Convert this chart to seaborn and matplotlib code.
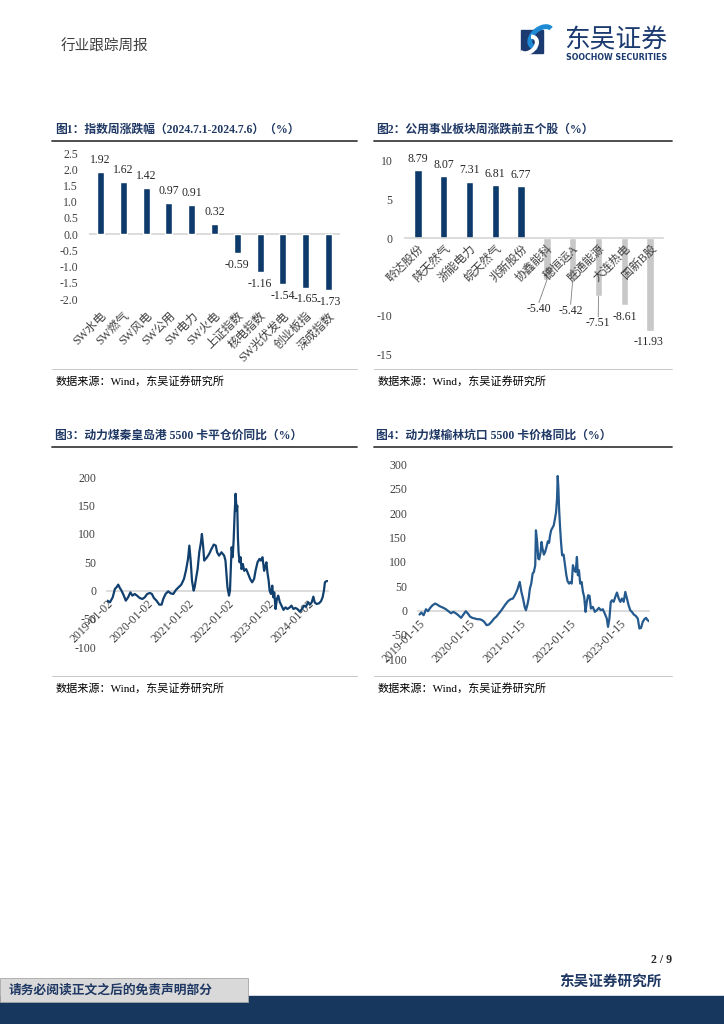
import matplotlib
matplotlib.use("Agg")
import matplotlib.pyplot as plt
from matplotlib.patches import Rectangle, Arc
import pandas as pd
import seaborn as sns

# ---- 图1 指数周涨跌幅 ----
idx_names = ["SW水电", "SW燃气", "SW风电", "SW公用", "SW电力", "SW火电",
             "上证指数", "核电指数", "SW光伏发电", "创业板指", "深成指数"]
idx_chg = [1.92, 1.62, 1.42, 0.97, 0.91, 0.32, -0.59, -1.16, -1.54, -1.65, -1.73]
idx_yticks = [2.5, 2.0, 1.5, 1.0, 0.5, 0.0, -0.5, -1.0, -1.5, -2.0]

# ---- 图2 公用事业板块周涨跌前五个股 ----
stock_names = ["聆达股份", "陕天然气", "浙能电力", "皖天然气", "兆新股份",
               "协鑫能科", "穗恒运A", "胜通能源", "大连热电", "国新B股"]
stock_chg = [8.79, 8.07, 7.31, 6.81, 6.77, -5.40, -5.42, -7.51, -8.61, -11.93]
stock_yticks = [10, 5, 0, -10, -15]

# ---- 图3 动力煤秦皇岛港5500卡平仓价同比 ----
qhd_dates = ["2019-01-02", "2019-01-26", "2019-02-20", "2019-03-12", "2019-03-27", "2019-04-11",
             "2019-04-26", "2019-05-11", "2019-06-01", "2019-06-19", "2019-07-10", "2019-07-31",
             "2019-08-18", "2019-09-08", "2019-09-29", "2019-10-23", "2019-11-17", "2019-12-08",
             "2019-12-30", "2020-01-24", "2020-02-11", "2020-02-29", "2020-03-24", "2020-04-18",
             "2020-05-09", "2020-05-24", "2020-06-14", "2020-07-08", "2020-07-29", "2020-08-23",
             "2020-09-16", "2020-10-10", "2020-11-04", "2020-11-28", "2020-12-16", "2021-01-04",
             "2021-01-16", "2021-01-28", "2021-02-09", "2021-02-24", "2021-03-05", "2021-03-17",
             "2021-04-01", "2021-04-16", "2021-05-01", "2021-05-10", "2021-05-22", "2021-05-31",
             "2021-06-21", "2021-07-15", "2021-08-05", "2021-08-26", "2021-09-13", "2021-09-25",
             "2021-10-13", "2021-11-04", "2021-11-28", "2021-12-10", "2021-12-19", "2021-12-28",
             "2022-01-11", "2022-01-20", "2022-01-29", "2022-02-04", "2022-02-13", "2022-02-22",
             "2022-03-03", "2022-03-12", "2022-03-21", "2022-03-27", "2022-04-02", "2022-04-08",
             "2022-04-17", "2022-04-26", "2022-05-05", "2022-05-17", "2022-05-29", "2022-06-16",
             "2022-07-04", "2022-07-22", "2022-08-09", "2022-08-27", "2022-09-09", "2022-09-27",
             "2022-10-15", "2022-10-27", "2022-11-11", "2022-11-26", "2022-12-08", "2022-12-17",
             "2022-12-26", "2023-01-06", "2023-01-15", "2023-01-27", "2023-02-08", "2023-02-17",
             "2023-02-26", "2023-03-10", "2023-03-22", "2023-04-03", "2023-04-18", "2023-05-03",
             "2023-05-21", "2023-06-08", "2023-06-26", "2023-07-17", "2023-08-01", "2023-08-19",
             "2023-09-06", "2023-09-24", "2023-10-15", "2023-11-05", "2023-11-23", "2023-12-11",
             "2023-12-29", "2024-01-17", "2024-02-01", "2024-02-16", "2024-02-28", "2024-03-17",
             "2024-04-07", "2024-04-25", "2024-05-10", "2024-05-22", "2024-05-31", "2024-06-12",
             "2024-06-21"]
qhd_yoy = [-17.7, -20.6, -11.8, 3.0, 6.0, 10.6,
           4.7, 0.0, -8.8, -17.7, -11.8, -3.0,
           -8.8, -5.9, -8.8, -13.0, -14.7, -11.8,
           -5.9, -4.1, -5.9, -13.0, -17.7, -24.7,
           -24.7, -14.7, -5.9, -1.2, -4.7, -5.9,
           1.2, 5.9, 10.6, 20.6, 35.3, 56.0,
           79.5, 53.0, 17.7, 0.0, 5.9, 20.6,
           38.0, 67.7, 85.0, 100.0, 76.6, 53.0,
           57.7, 64.8, 73.6, 81.3, 79.5, 67.7,
           61.8, 67.7, 61.8, 53.0, 29.5, 5.9,
           -8.8, 0.0, 47.0, 76.6, 59.0, 88.0,
           135.0, 171.0, 141.0, 150.0, 94.0, 67.7,
           50.0, 59.0, 38.0, 47.0, 35.0, 38.0,
           29.5, 20.6, 14.7, 20.6, 35.0, 50.0,
           56.0, 53.0, 59.0, 35.0, 44.0, 50.0,
           32.0, 17.7, 0.0, -5.9, 8.8, -11.8,
           -3.0, -32.4, -14.7, -8.8, -20.6, -26.5,
           -34.0, -29.5, -32.4, -29.5, -26.5, -32.4,
           -30.6, -32.4, -37.0, -32.4, -26.5, -28.3,
           -20.6, -24.7, -20.6, -10.6, -20.6, -23.6,
           -22.4, -18.8, -11.8, 0.0, 14.7, 16.5,
           17.0]
qhd_yticks = [200, 150, 100, 50, 0, -50, -100]
qhd_xticks = ["2019-01-02", "2020-01-02", "2021-01-02", "2022-01-02", "2023-01-02", "2024-01-02"]

# ---- 图4 动力煤榆林坑口5500卡价格同比 ----
yl_dates = ["2019-01-15", "2019-01-28", "2019-02-14", "2019-03-03", "2019-03-17", "2019-04-03",
            "2019-04-20", "2019-05-09", "2019-05-24", "2019-06-07", "2019-06-22", "2019-07-09",
            "2019-07-26", "2019-08-14", "2019-09-02", "2019-09-19", "2019-10-06", "2019-10-25",
            "2019-11-14", "2019-12-01", "2019-12-18", "2020-01-01", "2020-01-18", "2020-02-04",
            "2020-02-23", "2020-03-13", "2020-03-30", "2020-04-16", "2020-05-01", "2020-05-18",
            "2020-06-04", "2020-06-23", "2020-07-12", "2020-07-29", "2020-08-15", "2020-08-29",
            "2020-09-15", "2020-10-02", "2020-10-21", "2020-11-09", "2020-11-26", "2020-12-13",
            "2020-12-27", "2021-01-15", "2021-01-27", "2021-02-08", "2021-02-20", "2021-03-01",
            "2021-03-11", "2021-03-21", "2021-03-30", "2021-04-09", "2021-04-19", "2021-04-28",
            "2021-05-08", "2021-05-13", "2021-05-22", "2021-05-30", "2021-06-06", "2021-06-16",
            "2021-06-23", "2021-06-30", "2021-07-10", "2021-07-19", "2021-07-29", "2021-08-08",
            "2021-08-17", "2021-08-24", "2021-09-01", "2021-09-10", "2021-09-20", "2021-09-29",
            "2021-10-07", "2021-10-14", "2021-10-19", "2021-10-24", "2021-10-29", "2021-11-05",
            "2021-11-12", "2021-11-20", "2021-12-01", "2021-12-11", "2021-12-21", "2021-12-30",
            "2022-01-10", "2022-01-19", "2022-01-29", "2022-02-07", "2022-02-17", "2022-02-27",
            "2022-03-08", "2022-03-15", "2022-03-23", "2022-04-01", "2022-04-11", "2022-04-21",
            "2022-04-30", "2022-05-10", "2022-05-19", "2022-05-29", "2022-06-08", "2022-06-18",
            "2022-07-02", "2022-07-17", "2022-07-31", "2022-08-15", "2022-08-29", "2022-09-13",
            "2022-09-27", "2022-10-12", "2022-10-21", "2022-10-31", "2022-11-10", "2022-11-19",
            "2022-12-01", "2022-12-13", "2022-12-25", "2023-01-07", "2023-01-19", "2023-01-31",
            "2023-02-12", "2023-02-24", "2023-03-08", "2023-03-20", "2023-04-01", "2023-04-13",
            "2023-04-27", "2023-05-11", "2023-05-26", "2023-06-07", "2023-06-19", "2023-07-01",
            "2023-07-13", "2023-07-25", "2023-08-06", "2023-08-16"]
yl_yoy = [-8.2, -4.1, -9.6, 2.7, -1.4, 5.5,
          10.9, 14.3, 12.3, 9.6, 7.5, 5.5,
          2.7, -1.4, -5.5, -2.7, -5.5, -9.6,
          -15.0, -8.2, -1.4, -5.5, -12.3, -15.0,
          -16.4, -17.8, -17.8, -19.8, -23.2, -30.0,
          -28.7, -23.2, -16.4, -12.3, -6.1, -1.4,
          5.5, 12.3, 19.1, 23.2, 24.6, 32.8,
          41.7, 58.7, 38.2, 24.6, 7.5, 0.7,
          10.9, 24.6, 45.0, 55.3, 75.8, 79.2,
          92.9, 164.6, 140.7, 106.5, 105.0, 120.0,
          140.7, 127.0, 114.7, 120.0, 130.5, 142.0,
          139.0, 154.0, 164.6, 169.4, 174.8, 188.5,
          202.0, 229.5, 276.0, 250.0, 209.0, 171.4,
          140.7, 113.4, 114.7, 93.0, 72.4, 60.0,
          55.3, 58.7, 55.3, 93.0, 82.6, 79.2,
          110.0, 72.4, 82.6, 55.3, 58.7, 38.2,
          28.0, -2.7, 17.8, 31.4, 30.0, 4.1,
          7.5, -2.7, 0.7, 5.5, 0.7, 2.7,
          -6.1, -16.4, -33.5, -16.4, 17.8, 21.2,
          17.8, 28.0, 36.9, 24.6, 17.8, 24.6,
          17.8, 38.2, 24.6, 10.9, 0.7, -2.7,
          -8.2, -10.9, -16.4, -36.9, -35.5, -23.2,
          -17.8, -15.0, -19.8, -21.9]
yl_yticks = [300, 250, 200, 150, 100, 50, 0, -50, -100]
yl_xticks = ["2019-01-15", "2020-01-15", "2021-01-15", "2022-01-15", "2023-01-15"]

# ---- style ----
NAVY = "#0d3a6b"
GREY_BAR = "#c8c8c8"
ZERO = "#d6d6d6"
TICK_C = "#404040"
TITLE_C = "#1f3864"

sns.set_style("white")
plt.rcParams["font.family"] = ["Liberation Serif", "Noto Sans CJK SC"]
plt.rcParams["axes.unicode_minus"] = False

W, H = 724, 1024
fig = plt.figure(figsize=(W / 100, H / 100), dpi=100)


def px_axes(x0, y0, x1, y1):
    ax = fig.add_axes([x0 / W, 1 - y1 / H, (x1 - x0) / W, (y1 - y0) / H])
    ax.set_facecolor("none")
    ax.set_axisbelow(False)
    for s in ax.spines.values():
        s.set_visible(False)
    return ax


# page background layer, pixel coordinates
bg = fig.add_axes([0, 0, 1, 1], zorder=-5)
bg.set_xlim(0, W)
bg.set_ylim(H, 0)
bg.axis("off")

# header
bg.text(61, 47, "行业跟踪周报", fontsize=10.5, color="#404040", va="center")
bg.add_patch(Rectangle((521, 30), 22, 23, color="#1b3a6f"))
bg.add_patch(Arc((541, 37), 26, 16, angle=-40, theta1=150, theta2=360, color="#1e8ad6", lw=3.5))
bg.add_patch(Arc((528, 45), 20, 14, angle=-40, theta1=-30, theta2=180, color="white", lw=3))
bg.text(564, 40, "东吴证券", fontsize=18.5, color="#1b3a6f", va="center", family="Noto Sans CJK SC")
bg.text(566, 57, "SOOCHOW SECURITIES", fontsize=5.7, color="#1b3a6f", va="center",
        family="DejaVu Sans", weight="bold")

# chart titles, rules, sources
titles = [(55, 130, "图1：指数周涨跌幅（2024.7.1-2024.7.6）（%）", 52, 357),
          (376, 130, "图2：公用事业板块周涨跌前五个股（%）", 374, 672),
          (55, 436, "图3：动力煤秦皇岛港 5500 卡平仓价同比（%）", 52, 357),
          (376, 436, "图4：动力煤榆林坑口 5500 卡价格同比（%）", 374, 672)]
for tx, ty, txt, lx0, lx1 in titles:
    bg.text(tx, ty, txt, fontsize=8.5, weight="bold", color=TITLE_C, va="center")
    bg.plot([lx0, lx1], [ty + 11, ty + 11], color="#404040", lw=1.3)
    src_y = 381 if ty < 300 else 688
    bg.plot([lx0, lx1], [src_y - 12, src_y - 12], color="#bfbfbf", lw=0.6)
    bg.text(lx0 + 4, src_y, "数据来源：Wind，东吴证券研究所", fontsize=8, color="#000000", va="center")

# footer
bg.text(672, 960, "2 / 9", fontsize=8.5, weight="bold", ha="right", va="center")
bg.text(662, 983, "东吴证券研究所", fontsize=10.5, weight="bold", color="#1f3864", ha="right", va="center")
bg.add_patch(Rectangle((0, 996), W, 28, color="#17375e"))
bg.add_patch(Rectangle((0, 978), 248, 24, facecolor="#d9d9d9", edgecolor="#a6a6a6", lw=0.6))
bg.text(9, 990, "请务必阅读正文之后的免责声明部分", fontsize=9.2, weight="bold", color="#1f3864", va="center")

# ---- 图1 ----
ax1 = px_axes(89, 153, 340, 299)
sns.barplot(x=idx_names, y=idx_chg, color=NAVY, saturation=1, width=0.31, ax=ax1)
ax1.set_xlim(-0.5, len(idx_names) - 0.5)
ax1.set_ylim(-2.0, 2.5)
ax1.axhline(0, color=ZERO, lw=1.2, zorder=0)
ax1.set_yticks(idx_yticks)
ax1.set_yticklabels([f"{t:.1f}" for t in idx_yticks])
ax1.tick_params(axis="y", length=0, pad=8, labelsize=8.5, labelcolor=TICK_C)
ax1.tick_params(axis="x", length=0, pad=8, labelsize=8.5, labelcolor=TICK_C)
plt.setp(ax1.get_xticklabels(), rotation=45, ha="right", rotation_mode="anchor")
for i, v in enumerate(idx_chg):
    ax1.annotate(f"{v:.2f}", (i, v), xytext=(0, 8.5 if v > 0 else -8.5), textcoords="offset points",
                 ha="center", va="center", fontsize=8.5)
ax1.set_xlabel("")
ax1.set_ylabel("")

# ---- 图2 ----
ax2 = px_axes(405, 160.7, 663, 354.5)
bar_cols = [NAVY if v > 0 else GREY_BAR for v in stock_chg]
sns.barplot(x=stock_names, y=stock_chg, hue=stock_names, palette=bar_cols, legend=False,
            saturation=1, width=0.28, ax=ax2)
ax2.set_xlim(-0.5, len(stock_names) - 0.5)
ax2.set_ylim(-15, 10)
ax2.spines["bottom"].set_visible(True)
ax2.spines["bottom"].set_position(("data", 0))
ax2.spines["bottom"].set_color(ZERO)
ax2.spines["bottom"].set_linewidth(1.2)
ax2.set_yticks(stock_yticks)
ax2.tick_params(axis="y", length=0, pad=9, labelsize=8.5, labelcolor=TICK_C)
ax2.tick_params(axis="x", length=0, pad=3, labelsize=8.5, labelcolor=TICK_C)
plt.setp(ax2.get_xticklabels(), rotation=45, ha="right", rotation_mode="anchor")
# label placement for the negative bars (data coords) and whether a leader line is drawn
neg_label_xy = [(4.69, -9.1, True), (5.92, -9.33, True), (6.99, -10.95, True),
                (8.02, -10.1, False), (8.93, -13.45, False)]
k = 0
for i, v in enumerate(stock_chg):
    if v > 0:
        ax2.annotate(f"{v:.2f}", (i, v), xytext=(0, 8), textcoords="offset points",
                     ha="center", va="center", fontsize=8.5)
    else:
        lx, ly, lead = neg_label_xy[k]
        k += 1
        if lead:
            ax2.annotate("", xy=(i, v), xytext=(lx, ly + 0.8),
                         arrowprops=dict(arrowstyle="-", color="#7f7f7f", lw=0.6,
                                         shrinkA=0, shrinkB=0))
        ax2.text(lx, ly, f"{v:.2f}", ha="center", va="center", fontsize=8.5)
ax2.set_xlabel("")
ax2.set_ylabel("")


# ---- 图3 / 图4 ----
def line_panel(ax, dates, vals, color, yticks, xticks, xlim):
    df = pd.DataFrame({"date": pd.to_datetime(dates), "yoy": vals})
    sns.lineplot(data=df, x="date", y="yoy", color=color, lw=1.6, ax=ax, zorder=3)
    ax.set_ylim(min(yticks), max(yticks))
    ax.set_xlim(pd.Timestamp(xlim[0]), pd.Timestamp(xlim[1]))
    ax.spines["bottom"].set_visible(True)
    ax.spines["bottom"].set_position(("data", 0))
    ax.spines["bottom"].set_color(ZERO)
    ax.spines["bottom"].set_linewidth(1.2)
    ax.set_yticks(yticks)
    ax.set_xticks(pd.to_datetime(xticks))
    ax.set_xticklabels(xticks)
    ax.tick_params(axis="y", length=0, pad=8, labelsize=8.5, labelcolor=TICK_C)
    ax.tick_params(axis="x", length=3, width=1, color=ZERO, pad=2, labelsize=8.5, labelcolor=TICK_C)
    plt.setp(ax.get_xticklabels(), rotation=45, ha="right", rotation_mode="anchor")
    ax.set_xlabel("")
    ax.set_ylabel("")


ax3 = px_axes(107.3, 477.3, 328, 647.3)
line_panel(ax3, qhd_dates, qhd_yoy, "#11406f", qhd_yticks, qhd_xticks, ("2019-01-02", "2024-06-28"))

ax4 = px_axes(418.3, 464.3, 649.3, 659.3)
line_panel(ax4, yl_dates, yl_yoy, "#245a8e", yl_yticks, yl_xticks, ("2019-01-06", "2023-08-18"))

fig.savefig("out.png", dpi=100)
